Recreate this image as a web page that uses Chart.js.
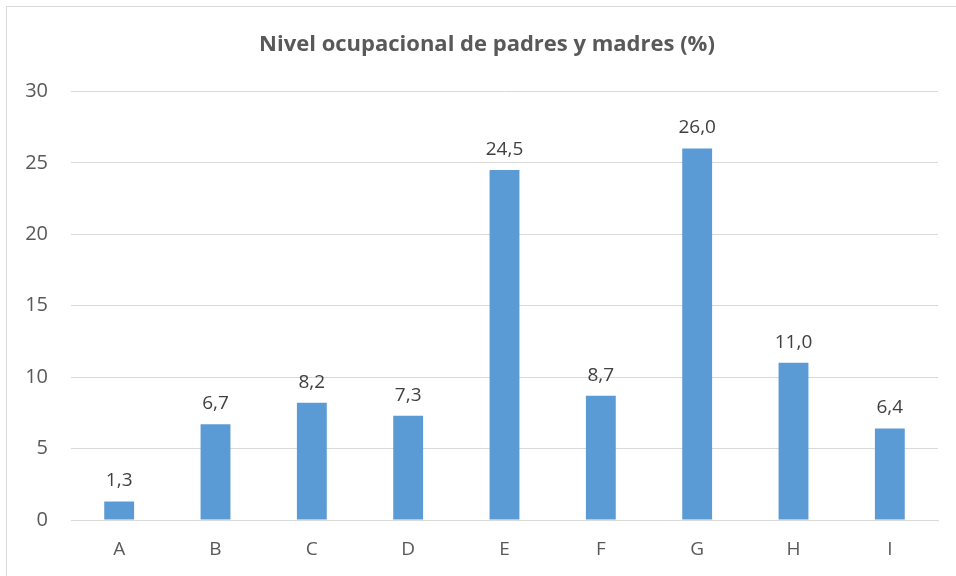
<!DOCTYPE html>
<html>
<head>
<meta charset="utf-8">
<script src="https://cdn.jsdelivr.net/npm/chart.js@4/dist/chart.umd.min.js"></script>
<style>
  html, body { margin: 0; padding: 0; background: #fff; }
  #wrap { width: 956px; height: 576px; }
</style>
</head>
<body>
<div id="wrap"><canvas id="occChart" width="956" height="576"></canvas></div>
<script>
const categories = ['A', 'B', 'C', 'D', 'E', 'F', 'G', 'H', 'I'];
const percentages = [1.3, 6.7, 8.2, 7.3, 24.5, 8.7, 26.0, 11.0, 6.4];
const yTicks = [0, 5, 10, 15, 20, 25, 30];

const fontFamily = "'Open Sans', 'Noto Sans', sans-serif";

// outer frame like the spreadsheet chart box (only left/top edges visible)
const framePlugin = {
    id: 'frame',
    beforeDraw(chart) {
        const ctx = chart.ctx;
        ctx.save();
        ctx.fillStyle = '#fff';
        ctx.fillRect(0, 0, chart.width, chart.height);
        ctx.strokeStyle = '#d9d9d9';
        ctx.lineWidth = 1;
        ctx.strokeRect(6.5, 6.5, chart.width + 20, chart.height + 20);
        ctx.restore();
    },
    // original chart box is wider than the picture, so its title sits a bit right of centre
    afterLayout(chart) {
        if (chart.titleBlock) {
            chart.titleBlock.left += 9;
            chart.titleBlock.right += 9;
        }
    }
};

// value labels above each bar, decimal comma
const valueLabels = {
    id: 'valueLabels',
    afterDatasetsDraw(chart) {
        const ctx = chart.ctx;
        const meta = chart.getDatasetMeta(0);
        ctx.save();
        ctx.font = '19px ' + fontFamily;
        ctx.fillStyle = '#404040';
        ctx.textAlign = 'center';
        ctx.textBaseline = 'bottom';
        meta.data.forEach((bar, i) => {
            const txt = percentages[i].toFixed(1).replace('.', ',');
            ctx.fillText(txt, bar.x, bar.y - 11);
        });
        ctx.restore();
    }
};

new Chart(document.getElementById('occChart'), {
    type: 'bar',
    data: {
        labels: categories,
        datasets: [{
            data: percentages,
            backgroundColor: '#5b9bd5',
            borderWidth: 0,
            barPercentage: 0.31,
            categoryPercentage: 1
        }]
    },
    options: {
        responsive: false,
        animation: false,
        layout: { padding: { left: 18, right: 18, top: 32, bottom: 0 } },
        plugins: {
            legend: { display: false },
            tooltip: { enabled: false },
            title: {
                display: true,
                text: 'Nivel ocupacional de padres y madres (%)',
                color: '#595959',
                font: { family: fontFamily, size: 22, weight: 'bold' },
                padding: { top: 0, bottom: 33 }
            }
        },
        scales: {
            x: {
                grid: { display: false, drawTicks: false },
                border: { display: true, color: '#d9d9d9', width: 1 },
                ticks: { color: '#595959', font: { family: fontFamily, size: 19 }, padding: 18 },
                afterFit(scale) { scale.height = 56; }
            },
            y: {
                min: 0,
                max: 30,
                afterBuildTicks(scale) { scale.ticks = yTicks.map(v => ({ value: v })); },
                grid: { color: '#d9d9d9', drawTicks: false },
                border: { display: false },
                ticks: { color: '#595959', font: { family: fontFamily, size: 20 }, padding: 23 },
                afterFit(scale) { scale.width = 53; }
            }
        }
    },
    plugins: [framePlugin, valueLabels]
});
</script>
</body>
</html>
